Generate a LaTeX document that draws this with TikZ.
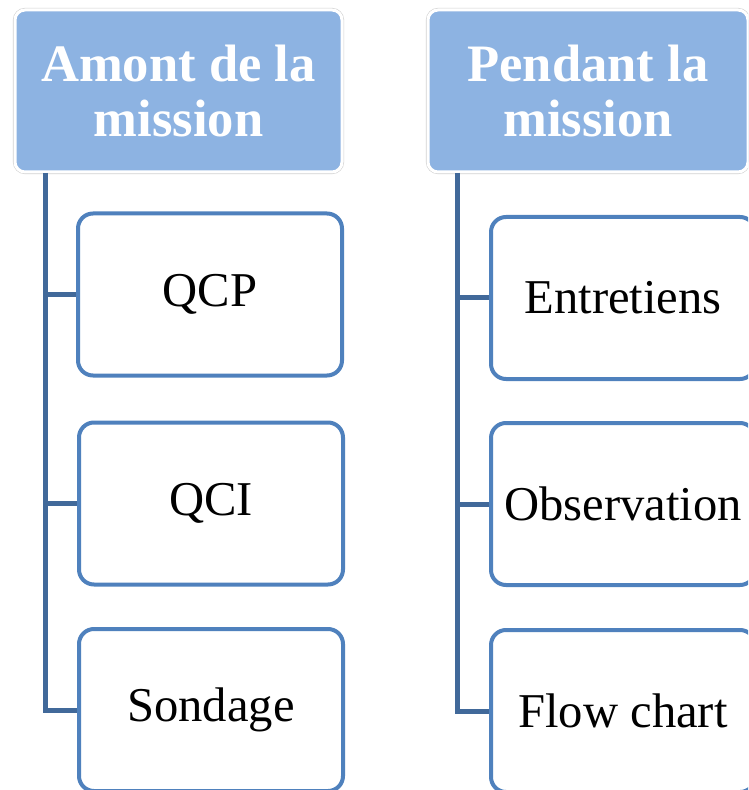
\documentclass[tikz,border=0pt]{standalone}
\usepackage{fontspec}
\setmainfont{Liberation Serif}
\definecolor{headfill}{HTML}{8DB3E2}
\definecolor{boxline}{HTML}{4F81BD}
\definecolor{linkline}{HTML}{41699A}
\begin{document}
\begin{tikzpicture}[x=0.5pt,y=-0.5pt,
    head/.style={rectangle,rounded corners=5pt,fill=headfill,draw=white,line width=1.5pt,
      preaction={draw=black!18,line width=2.1pt},minimum width=#1,minimum height=81pt,
      text=white,align=center,font=\bfseries\fontsize{26.3}{27.5}\selectfont,inner sep=0pt},
    item/.style={rectangle,rounded corners=7.5pt,fill=white,draw=boxline,line width=2pt,
      minimum width=132pt,minimum height=81pt,font=\fontsize{24.3}{29}\selectfont,inner sep=0pt},
    link/.style={draw=linkline,line width=2.5pt}]
      \useasboundingbox (0,0) rectangle (748,790);
      \clip (0,0) rectangle (748,790);
      \node[head=163.5pt] (head1) at (178.5,91) {Amont de la\\mission};
      \node[head=160pt] (head2) at (588,91) {Pendant la\\mission};
      \coordinate (trunkL) at (45.5,173);
      \coordinate (trunkR) at (457.5,173);
      \node[item] (qcp) at (210,294.5) {QCP};
      \node[item] (qci) at (211,503.5) {QCI};
      \node[item] (sondage) at (211,710) {Sondage};
      \node[item] (entretiens) at (623,298) {Entretiens};
      \node[item] (observation) at (623,504) {Observation};
      \node[item] (flowchart) at (623,711) {Flow chart};
      \draw[link] (trunkL) |- (sondage.west);
      \draw[link] (trunkL |- qcp.west) -- (qcp.west);
      \draw[link] (trunkL |- qci.west) -- (qci.west);
      \draw[link] (trunkR) |- (flowchart.west);
      \draw[link] (trunkR |- entretiens.west) -- (entretiens.west);
      \draw[link] (trunkR |- observation.west) -- (observation.west);
\end{tikzpicture}
\end{document}
